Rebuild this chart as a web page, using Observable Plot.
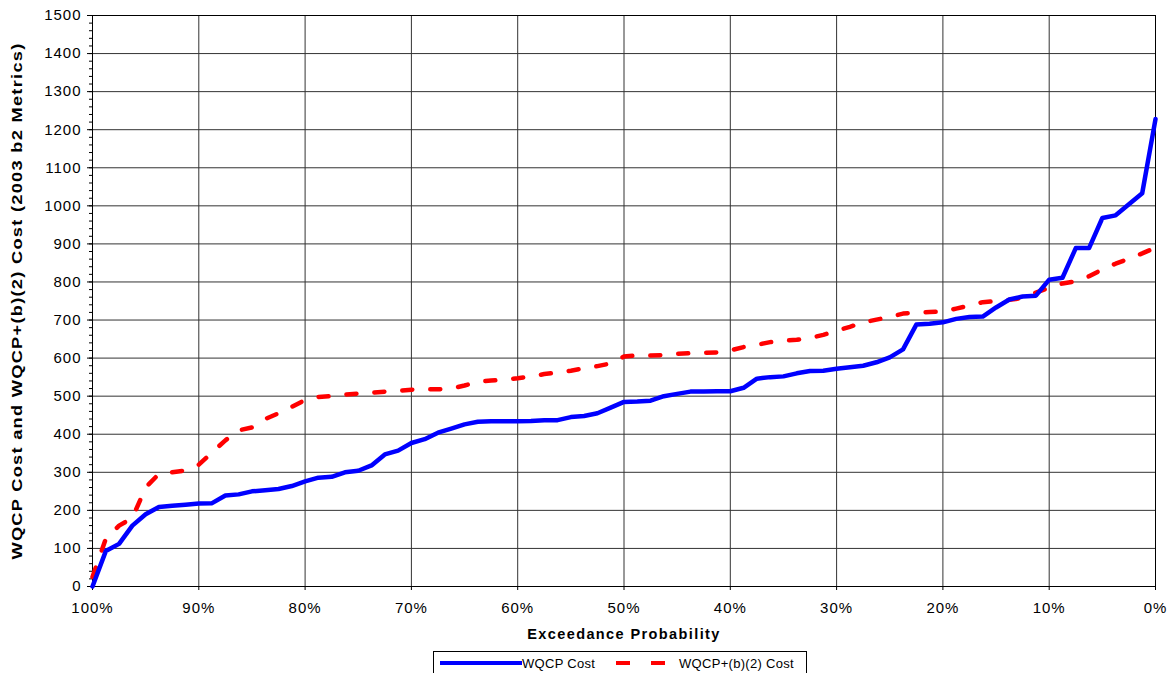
<!DOCTYPE html>
<html><head><meta charset="utf-8">
<script src="https://cdn.jsdelivr.net/npm/d3@7"></script>
<script src="https://cdn.jsdelivr.net/npm/@observablehq/plot@0.6"></script>
<style>
body{margin:0;background:#fff;font-family:"Liberation Sans",Arial,sans-serif;}
#wrap{position:relative;width:1175px;height:673px;overflow:hidden;}
#chart svg g[aria-label="y-axis tick label"] text, #chart svg g[aria-label="x-axis tick label"] text{letter-spacing:1px;}
#chart svg g.xtitle text{letter-spacing:1.4px;}
#chart svg g.ytitle text{letter-spacing:1px;}
#legend{position:absolute;left:433px;top:651px;width:374px;height:24px;border:1px solid #000;box-sizing:border-box;background:#fff;font-size:13px;color:#000;}
#legend .item{position:absolute;top:2px;display:flex;align-items:center;height:18px;}
#legend span{letter-spacing:0.3px;}
</style></head>
<body>
<div id="wrap"><div id="chart"></div>
<div id="legend">
 <div class="item" style="left:6px"><svg width="82" height="10"><line x1="0" y1="5" x2="82" y2="5" stroke="#0000ff" stroke-width="4"/></svg><span>WQCP Cost</span></div>
 <div class="item" style="left:180px"><svg width="60" height="10"><line x1="2" y1="5" x2="60" y2="5" stroke="#ff0000" stroke-width="4" stroke-dasharray="14,21"/></svg><span style="margin-left:5px">WQCP+(b)(2) Cost</span></div>
</div></div>
<script>
const probability = [100,98.75,97.5,96.25,95,93.75,92.5,91.25,90,88.75,87.5,86.25,85,83.75,82.5,81.25,80,78.75,77.5,76.25,75,73.75,72.5,71.25,70,68.75,67.5,66.25,65,63.75,62.5,61.25,60,58.75,57.5,56.25,55,53.75,52.5,51.25,50,48.75,47.5,46.25,45,43.75,42.5,41.25,40,38.75,37.5,36.25,35,33.75,32.5,31.25,30,28.75,27.5,26.25,25,23.75,22.5,21.25,20,18.75,17.5,16.25,15,13.75,12.5,11.25,10,8.75,7.5,6.25,5,3.75,2.5,1.25,0];
const wqcpCost = [0,93,112,160,190,209,212,215,218,219,239,242,250,253,256,264,276,286,288,300,304,318,347,357,377,387,404,415,426,433,434,434,434,435,437,437,445,448,455,470,485,486,488,500,506,512,512,513,513,522,546,550,552,560,566,567,572,576,580,589,602,623,688,690,694,703,708,709,733,754,762,764,806,811,889,889,968,975,1004,1033,1228];
const wqcpB2Cost = [25,125,160,180,260,296,300,305,320,352,384,410,418,440,455,472,490,498,500,504,507,509,512,514,517,518,518,520,528,538,541,543,547,552,558,562,567,573,579,586,604,607,607,608,611,613,614,615,620,629,635,642,646,648,653,661,672,682,694,701,708,717,720,721,722,730,738,747,750,753,758,772,785,796,802,815,833,848,861,875,890];
const xTicks = [100,90,80,70,60,50,40,30,20,10,0];
const yTicks = [0,100,200,300,400,500,600,700,800,900,1000,1100,1200,1300,1400,1500];
const yMinorTicks = d3.range(0, 1501, 20);
const xTitle = "Exceedance Probability";
const yTitle = "WQCP Cost and WQCP+(b)(2) Cost (2003 b2 Metrics)";

const blue = probability.map((p, i) => ({p, v: wqcpCost[i]}));
const red = probability.map((p, i) => ({p, v: wqcpB2Cost[i]}));

const chart = Plot.plot({
  width: 1175, height: 648,
  marginLeft: 92, marginRight: 20, marginTop: 15, marginBottom: 62,
  style: {fontFamily: "'Liberation Sans', Arial, sans-serif", fontSize: "15px", color: "#000", background: "#fff"},
  x: {domain: [100, 0], label: null},
  y: {domain: [0, 1500], label: null},
  marks: [
    Plot.gridX(xTicks, {stroke: "#333", strokeOpacity: 1, strokeWidth: 1}),
    Plot.gridY(yTicks, {stroke: "#333", strokeOpacity: 1, strokeWidth: 1}),
    Plot.axisY(yMinorTicks, {tickSize: 3, text: null, stroke: "#000"}),
    Plot.axisY(yTicks, {tickSize: 5, tickPadding: 6, tickFormat: d => String(d), stroke: "#000", fill: "#000", fontSize: 15}),
    Plot.axisX(xTicks, {tickSize: 4, tickPadding: 12, tickFormat: d => d + "%", stroke: "#000", fill: "#000", fontSize: 15}),
    Plot.frame({stroke: "#000", strokeWidth: 1}),
    Plot.line(red, {x: "p", y: "v", stroke: "#ff0000", strokeWidth: 4.5, strokeDasharray: "10,18"}),
    Plot.line(blue, {x: "p", y: "v", stroke: "#0000ff", strokeWidth: 4.5, strokeLinejoin: "round"}),
    Plot.text([xTitle], {frameAnchor: "bottom", dy: 52, fontWeight: "bold", fontSize: 14.5, fill: "#000", className: "xtitle"}),
    Plot.text([yTitle], {frameAnchor: "left", textAnchor: "middle", dx: -75, rotate: -90, fontWeight: "bold", fontSize: 14, fill: "#000", className: "ytitle"})
  ]
});
document.getElementById("chart").appendChild(chart);
// stretch the rotated y title along its reading direction, as in the reference
chart.querySelectorAll("g.ytitle text").forEach(t => {
  const tr = t.getAttribute("transform") || "";
  t.setAttribute("transform", tr + " scale(1.3,1)");
});
</script>
</body></html>
